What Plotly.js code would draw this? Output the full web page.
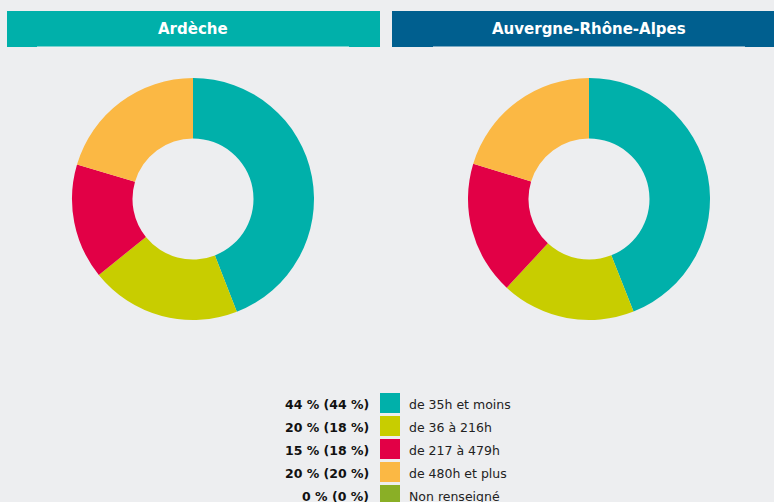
<!DOCTYPE html>
<html><head><meta charset="utf-8">
<script src="https://cdn.plot.ly/plotly-3.0.1.min.js"></script>
<style>html,body{margin:0;padding:0;background:#edeef0;}</style>
</head><body><div id="chart" style="width:774px;height:502px;"></div>
<script>
var categories = ["de 35h et moins", "de 36 à 216h", "de 217 à 479h", "de 480h et plus", "Non renseigné"];
var ardecheValues = [44.1, 20.1, 15.4, 20.4, 0];
var regionValues = [44.0, 17.9, 17.8, 20.3, 0];
var titles = ["Ardèche", "Auvergne-Rhône-Alpes"];
var colors = ["#00b0aa", "#c8cd00", "#e20046", "#fbb844", "#8aaf26"];

var W = 774, H = 502;
function px(x){ return x / W; }
function py(y){ return 1 - y / H; }

function pie(vals, xd, name){
  return {type:"pie", values: vals, labels: categories, name: name, sort:false, direction:"clockwise", rotation:0,
    hole:0.5, textinfo:"none", hoverinfo:"label+percent", showlegend:false,
    marker:{colors: colors, line:{width:0}},
    domain:{x:xd, y:[py(320), py(78)]}};
}
var data = [
  pie(ardecheValues, [px(72), px(314)], titles[0]),
  pie(regionValues, [px(468), px(710)], titles[1])
];

var shapes = [
  {type:"rect", xref:"paper", yref:"paper", x0:px(7), x1:px(380), y0:py(47), y1:py(11), fillcolor:"#00b0aa", line:{width:0}},
  {type:"line", xref:"paper", yref:"paper", x0:px(37), x1:px(349), y0:py(47), y1:py(47), line:{color:"#f4f4f4", width:1}},
  {type:"rect", xref:"paper", yref:"paper", x0:px(392), x1:px(776), y0:py(47), y1:py(11), fillcolor:"#005f8f", line:{width:0}},
  {type:"line", xref:"paper", yref:"paper", x0:px(433), x1:px(745), y0:py(47), y1:py(47), line:{color:"#f4f4f4", width:1}}
];
var annotations = [
  {text:"<b>"+titles[0]+"</b>", xref:"paper", yref:"paper", x:px(193), y:py(29), showarrow:false, xanchor:"center", yanchor:"middle", font:{color:"#ffffff", size:15, family:"DejaVu Sans"}},
  {text:"<b>"+titles[1]+"</b>", xref:"paper", yref:"paper", x:px(589), y:py(29), showarrow:false, xanchor:"center", yanchor:"middle", font:{color:"#ffffff", size:15, family:"DejaVu Sans"}}
];
for (var i = 0; i < categories.length; i++){
  var yc = 403 + 23*i;
  shapes.push({type:"rect", xref:"paper", yref:"paper", x0:px(380), x1:px(400), y0:py(yc+10), y1:py(yc-10), fillcolor:colors[i], line:{width:0}});
  annotations.push({text:"<b>"+Math.round(ardecheValues[i])+" % ("+Math.round(regionValues[i])+" %)</b>", xref:"paper", yref:"paper", x:px(371), y:py(yc+1), showarrow:false, xanchor:"right", yanchor:"middle", font:{color:"#111111", size:12.5, family:"DejaVu Sans"}});
  annotations.push({text:categories[i], xref:"paper", yref:"paper", x:px(407), y:py(yc+1), showarrow:false, xanchor:"left", yanchor:"middle", font:{color:"#222222", size:12.5, family:"DejaVu Sans"}});
}

var layout = {width:W, height:H, margin:{l:0,r:0,t:0,b:0}, paper_bgcolor:"#edeef0", plot_bgcolor:"#edeef0",
  showlegend:false, shapes:shapes, annotations:annotations, font:{family:"DejaVu Sans"}};
Plotly.newPlot("chart", data, layout, {displayModeBar:false, staticPlot:true});
</script></body></html>
